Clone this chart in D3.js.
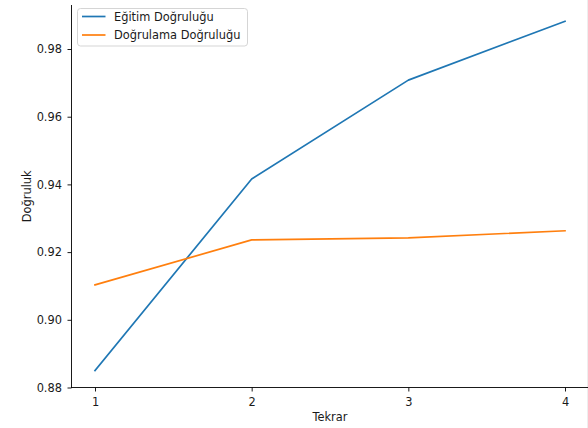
<!DOCTYPE html>
<html>
<head>
<meta charset="utf-8">
<script src="https://cdn.jsdelivr.net/npm/d3@7"></script>
<style>
  html, body { margin: 0; padding: 0; background: #fff; }
  svg { display: block; font-family: "DejaVu Sans", sans-serif; }
</style>
</head>
<body>
<svg id="chart" width="588" height="428"></svg>
<script>
// Epochs and accuracy per epoch
const epochs = [1, 2, 3, 4];
const trainAcc = [0.8850, 0.9416, 0.9708, 0.9882];
const valAcc = [0.9103, 0.9236, 0.9242, 0.9263];
const yTicks = [0.88, 0.90, 0.92, 0.94, 0.96, 0.98];
const seriesNames = ["Eğitim Doğruluğu", "Doğrulama Doğruluğu"];
const seriesColors = ["#1f77b4", "#ff7f0e"];

const svg = d3.select("#chart");
const plotLeft = 71.5, plotRight = 588.5, plotTop = 5, plotBottom = 387.5;
const fontSize = "11.4px";
const textColor = "#1a1a1a";

const x = d3.scaleLinear().domain([0.85, 4.15]).range([plotLeft, plotRight]);
const y = d3.scaleLinear().domain([0.88, 0.993]).range([plotBottom, plotTop]);

// faint figure edge on the right
svg.append("line")
  .attr("x1", 587.5).attr("x2", 587.5).attr("y1", 0).attr("y2", 428)
  .attr("stroke", "#eeeeee").attr("stroke-width", 1);

// series lines
const line = d3.line().x((d, i) => x(epochs[i])).y(d => y(d));
[trainAcc, valAcc].forEach((vals, k) => {
  svg.append("path")
    .datum(vals)
    .attr("d", line)
    .attr("fill", "none")
    .attr("stroke", seriesColors[k])
    .attr("stroke-width", 1.7)
    .attr("stroke-linejoin", "round")
    .attr("stroke-linecap", "square");
});

// y axis
const yAxis = d3.axisLeft(y).tickValues(yTicks).tickFormat(d3.format(".2f"))
  .tickSize(4).tickPadding(5.5);
const gy = svg.append("g").attr("transform", `translate(${plotLeft},0)`).call(yAxis);
gy.select(".domain").remove();
gy.append("line").attr("x1", 0).attr("x2", 0).attr("y1", plotTop).attr("y2", plotBottom + 0.5)
  .attr("stroke", "#000").attr("stroke-width", 0.9);

// x axis
const xAxis = d3.axisBottom(x).tickValues(epochs).tickFormat(d3.format("d"))
  .tickSize(4).tickPadding(6);
const gx = svg.append("g").attr("transform", `translate(0,${plotBottom})`).call(xAxis);
gx.select(".domain").remove();
gx.append("line").attr("x1", plotLeft - 0.5).attr("x2", plotRight).attr("y1", 0).attr("y2", 0)
  .attr("stroke", "#000").attr("stroke-width", 0.9);

[gx, gy].forEach(g => {
  g.selectAll(".tick line").attr("stroke", "#000").attr("stroke-width", 0.9);
  g.selectAll(".tick text").attr("fill", textColor)
    .style("font-family", "DejaVu Sans, sans-serif").style("font-size", fontSize);
});

// axis titles
svg.append("text").attr("x", (plotLeft + plotRight) / 2).attr("y", 420.5).attr("text-anchor", "middle")
  .style("font-size", fontSize).attr("fill", textColor).text("Tekrar");
svg.append("text")
  .attr("transform", `translate(31,${(plotTop + plotBottom) / 2}) rotate(-90)`)
  .attr("text-anchor", "middle")
  .style("font-size", fontSize).attr("fill", textColor).text("Doğruluk");

// legend
const lg = svg.append("g").attr("transform", "translate(77.5,8.5)");
lg.append("rect").attr("width", 170).attr("height", 37.5).attr("rx", 3)
  .attr("fill", "#fff").attr("fill-opacity", 0.8)
  .attr("stroke", "#d0d0d0").attr("stroke-width", 0.9);
seriesNames.forEach((name, i) => {
  const cy = 8 + i * 18.5;
  lg.append("line").attr("x1", 4.5).attr("x2", 28).attr("y1", cy).attr("y2", cy)
    .attr("stroke", seriesColors[i]).attr("stroke-width", 1.7);
  lg.append("text").attr("x", 36.5).attr("y", cy + 4.1)
    .style("font-size", fontSize).attr("fill", textColor).text(name);
});
</script>
</body>
</html>
